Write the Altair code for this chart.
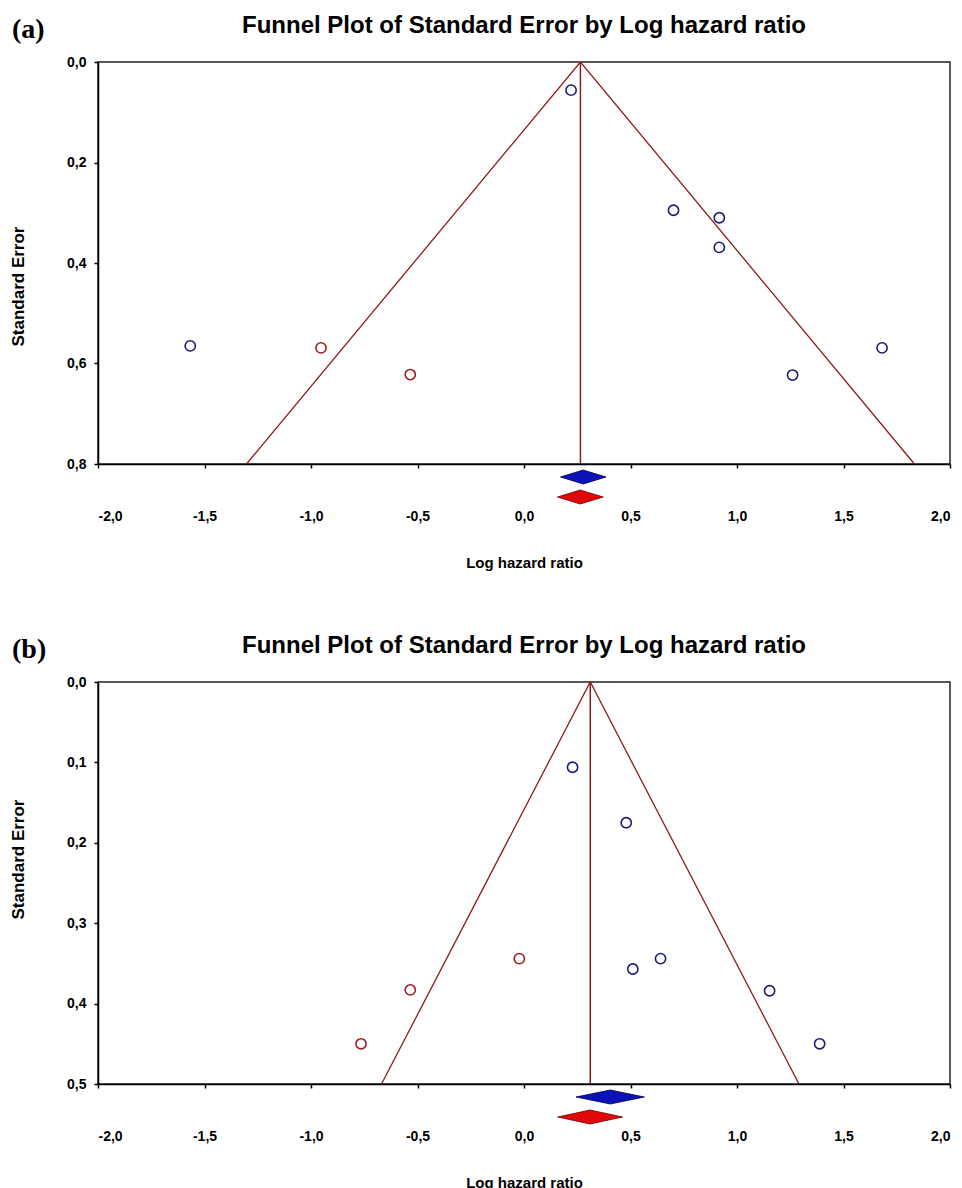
import altair as alt
import pandas as pd

# ---------------- data ----------------
TITLE = "Funnel Plot of Standard Error by Log hazard ratio"

# panel (a)
a_obs_x = [-1.567, 0.221, 0.702, 0.917, 0.917, 1.261, 1.681]
a_obs_se = [0.565, 0.056, 0.295, 0.310, 0.369, 0.623, 0.569]
a_imp_x = [-0.953, -0.534]
a_imp_se = [0.569, 0.622]
a_center = 0.265
a_funnel_left = -1.303
a_funnel_right = 1.833
a_se_max = 0.8
a_y_ticks = [0.0, 0.2, 0.4, 0.6, 0.8]
a_diamond_obs = [0.171, 0.278, 0.385]   # lower, estimate, upper
a_diamond_adj = [0.157, 0.264, 0.372]

# panel (b)
b_obs_x = [0.228, 0.480, 0.511, 0.641, 1.153, 1.388]
b_obs_se = [0.106, 0.175, 0.357, 0.344, 0.384, 0.450]
b_imp_x = [-0.022, -0.534, -0.765]
b_imp_se = [0.344, 0.383, 0.450]
b_center = 0.311
b_funnel_left = -0.669
b_funnel_right = 1.291
b_se_max = 0.5
b_y_ticks = [0.0, 0.1, 0.2, 0.3, 0.4, 0.5]
b_diamond_obs = [0.244, 0.405, 0.565]
b_diamond_adj = [0.158, 0.310, 0.463]

x_ticks = [-2.0, -1.5, -1.0, -0.5, 0.0, 0.5, 1.0, 1.5, 2.0]

# ---------------- styling ----------------
W, H = 852, 402
FUNNEL_COLOR = "#8e1b1b"
OBS_COLOR = "#1c1c78"
IMP_COLOR = "#a31d1d"
BLUE_DIA = "#0a12b8"
RED_DIA = "#e00808"
FONT = "Liberation Sans"
LABEL_EXPR = "replace(replace(format(datum.value, '.1f'), '.', ','), '\u2212', '-')"


def panel(tag, obs_x, obs_se, imp_x, imp_se, center, f_left, f_right,
          se_max, y_ticks, dia_obs, dia_adj, ytitle_y):
    px = se_max / H
    dia_rows = []
    for name, vals, cy_px in (("obs", dia_obs, 13), ("adj", dia_adj, 33)):
        cy = se_max + cy_px * px
        h = 7 * px
        dia_rows += [
            {"d": name, "x": vals[0], "y": cy, "y2": cy},
            {"d": name, "x": vals[1], "y": cy - h, "y2": cy + h},
            {"d": name, "x": vals[2], "y": cy, "y2": cy},
        ]
    dia = pd.DataFrame(dia_rows)

    pts = pd.DataFrame({
        "x": obs_x + imp_x,
        "se": obs_se + imp_se,
        "kind": ["obs"] * len(obs_x) + ["imp"] * len(imp_x),
    })
    funnel = pd.DataFrame({
        "x": [f_left, center, f_right],
        "se": [se_max, 0.0, se_max],
        "o": [0, 1, 2],
    })
    vline = pd.DataFrame({"x": [center], "se": [0.0], "se2": [se_max]})

    xscale = alt.Scale(domain=[-2, 2], nice=False, zero=False)
    yscale = alt.Scale(domain=[0, se_max], reverse=True, nice=False, zero=False)

    common = dict(grid=False, domainColor="black", domainWidth=1.5, tickColor="black",
                  tickWidth=1.5, tickSize=4, labelFont=FONT, labelFontSize=14,
                  labelFontWeight="bold", labelColor="black", titleFont=FONT,
                  titleFontWeight="bold", titleColor="black", labelExpr=LABEL_EXPR)
    xaxis = alt.Axis(values=x_ticks, title="Log hazard ratio", labelPadding=41,
                     titleY=98, titleBaseline="middle", titleFontSize=15, **common)
    yaxis = alt.Axis(values=y_ticks, title="Standard Error", labelPadding=8,
                     titleX=-80, titleY=ytitle_y, titleAngle=270,
                     titleBaseline="middle", titleAlign="center", titleFontSize=17,
                     **common)

    base_line = alt.Chart(funnel).mark_line(color=FUNNEL_COLOR, strokeWidth=1.3).encode(
        x=alt.X("x:Q", scale=xscale, axis=xaxis),
        y=alt.Y("se:Q", scale=yscale, axis=yaxis),
        order="o:Q",
    )
    rule = alt.Chart(vline).mark_rule(color=FUNNEL_COLOR, strokeWidth=1.5).encode(
        x="x:Q", y="se:Q", y2="se2:Q"
    )
    points = alt.Chart(pts).mark_point(shape="circle", filled=False, size=105,
                                        strokeWidth=1.6, opacity=1).encode(
        x="x:Q", y="se:Q",
        color=alt.Color("kind:N", scale=alt.Scale(domain=["obs", "imp"],
                                                  range=[OBS_COLOR, IMP_COLOR]),
                        legend=None),
    )
    d_obs = alt.Chart(dia[dia.d == "obs"]).mark_area(
        clip=False, color=BLUE_DIA, stroke="#00004a", strokeWidth=0.8, opacity=1
    ).encode(x="x:Q", y="y:Q", y2="y2:Q")
    d_adj = alt.Chart(dia[dia.d == "adj"]).mark_area(
        clip=False, color=RED_DIA, stroke="#6a0000", strokeWidth=0.8, opacity=1
    ).encode(x="x:Q", y="y:Q", y2="y2:Q")
    label = alt.Chart(pd.DataFrame({"t": [tag]})).mark_text(
        font="Liberation Serif", fontWeight="bold", fontSize=28, align="left",
        baseline="alphabetic", color="black"
    ).encode(text="t:N", x=alt.value(-86), y=alt.value(-24))
    title = alt.Chart(pd.DataFrame({"t": [TITLE]})).mark_text(
        font=FONT, fontWeight="bold", fontSize=24, align="center",
        baseline="alphabetic", color="black"
    ).encode(text="t:N", x=alt.value(W / 2), y=alt.value(-29))

    return alt.layer(base_line, rule, points, d_obs, d_adj, label, title).properties(
        width=W, height=H,
    )


pa = panel("(a)", a_obs_x, a_obs_se, a_imp_x, a_imp_se, a_center, a_funnel_left,
           a_funnel_right, a_se_max, a_y_ticks, a_diamond_obs, a_diamond_adj, 224)
pb = panel("(b)", b_obs_x, b_obs_se, b_imp_x, b_imp_se, b_center, b_funnel_left,
           b_funnel_right, b_se_max, b_y_ticks, b_diamond_obs, b_diamond_adj, 177)

chart = alt.vconcat(pa, pb, spacing=62).properties(
    padding={"top": 5, "left": 0, "right": 0, "bottom": 0}, background="white"
).configure_view(stroke="#222222", strokeWidth=1.5)

chart.save("out.html", embed_options={"renderer": "svg", "actions": False})
